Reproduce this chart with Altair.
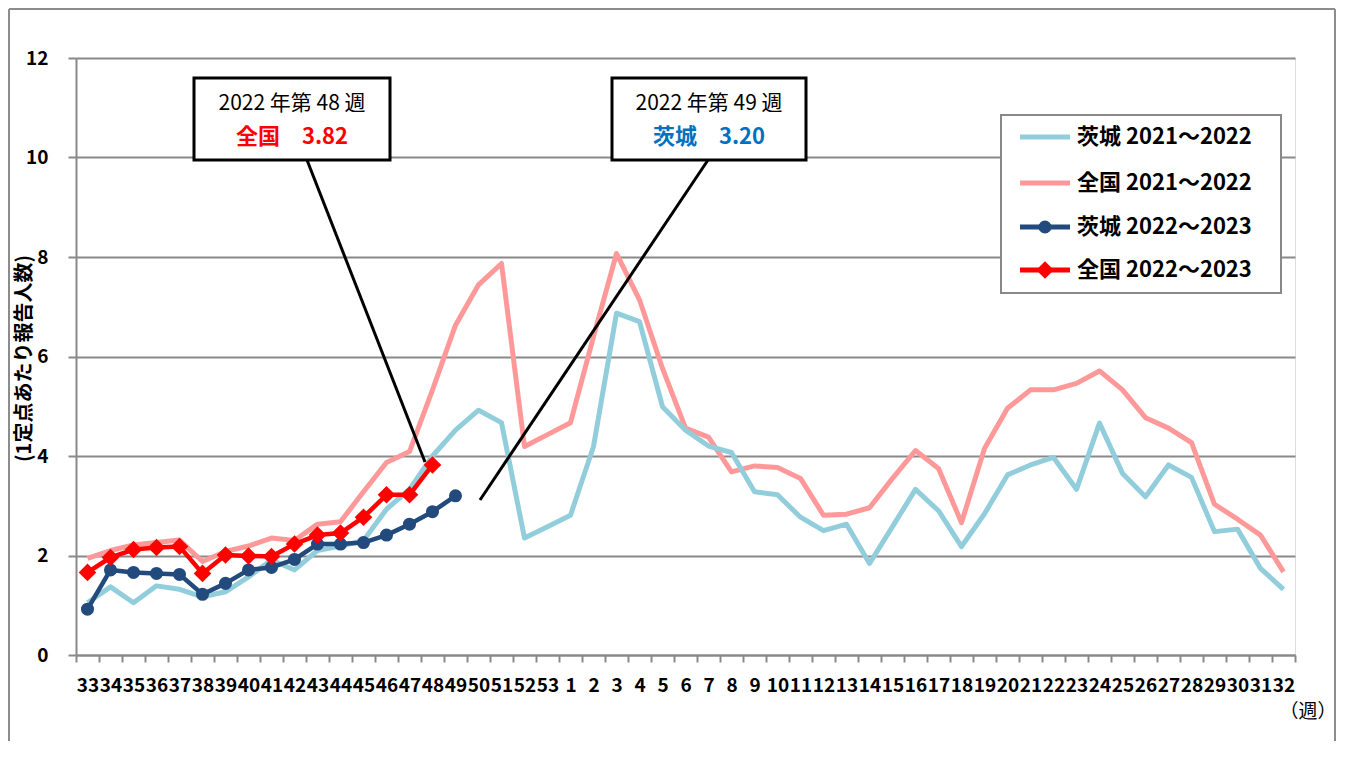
import altair as alt
import pandas as pd

weeks = ["33", "34", "35", "36", "37", "38", "39", "40", "41", "42", "43", "44", "45", "46",
         "47", "48", "49", "50", "51", "52", "53", "1", "2", "3", "4", "5", "6", "7", "8", "9",
         "10", "11", "12", "13", "14", "15", "16", "17", "18", "19", "20", "21", "22", "23",
         "24", "25", "26", "27", "28", "29", "30", "31", "32"]

ibaraki_2122 = [1.05, 1.37, 1.05, 1.39, 1.32, 1.17, 1.27, 1.57, 1.91, 1.71, 2.10, 2.19, 2.30,
                2.93, 3.33, 4.00, 4.52, 4.92, 4.67, 2.35, 2.58, 2.81, 4.19, 6.87, 6.70, 4.99,
                4.52, 4.20, 4.07, 3.28, 3.22, 2.77, 2.50, 2.63, 1.84, 2.58, 3.33, 2.90, 2.18,
                2.84, 3.62, 3.82, 3.97, 3.33, 4.66, 3.65, 3.18, 3.82, 3.57, 2.48, 2.53, 1.74, 1.32]

national_2122 = [1.94, 2.10, 2.21, 2.26, 2.31, 1.88, 2.08, 2.19, 2.35, 2.30, 2.63, 2.68, 3.28,
                 3.87, 4.09, 5.33, 6.63, 7.44, 7.87, 4.19, 4.43, 4.67, 6.40, 8.07, 7.14, 5.76,
                 4.56, 4.38, 3.68, 3.80, 3.77, 3.55, 2.81, 2.83, 2.96, 3.55, 4.11, 3.75, 2.66,
                 4.15, 4.96, 5.33, 5.33, 5.46, 5.71, 5.33, 4.77, 4.56, 4.27, 3.03, 2.73, 2.41, 1.67]

ibaraki_2223 = [0.92, 1.71, 1.66, 1.64, 1.62, 1.22, 1.44, 1.71, 1.76, 1.92, 2.23, 2.23, 2.26,
                2.41, 2.63, 2.88, 3.20]

national_2223 = [1.66, 1.96, 2.12, 2.16, 2.18, 1.64, 2.01, 1.99, 1.98, 2.23, 2.41, 2.45, 2.77,
                 3.22, 3.22, 3.82]

series_names = ["茨城2021～2022", "全国2021～2022", "茨城2022～2023", "全国2022～2023"]
legend_labels = ["茨城 2021～2022", "全国 2021～2022", "茨城 2022～2023", "全国 2022～2023"]
series_colors = ["#92CDDC", "#FF9999", "#234A7C", "#FF0000"]

FONT = "Noto Sans CJK JP"
GRID = "#898989"


def frame(name, vals):
    return pd.DataFrame({"series": name, "week": weeks[:len(vals)], "value": vals})


df_lb = frame(series_names[0], ibaraki_2122)
df_pk = frame(series_names[1], national_2122)
df_nv = frame(series_names[2], ibaraki_2223)
df_rd = frame(series_names[3], national_2223)

W, H = 1219, 597

x_enc = alt.X(
    "week:N", sort=weeks, title=None,
    scale=alt.Scale(type="band", domain=weeks, paddingInner=0, paddingOuter=0),
    axis=alt.Axis(
        labelFontSize=19, labelFontWeight="bold", labelColor="#000000", labelFont=FONT,
        labelOverlap=False, labelBound=False, labelFlush=False, labelAngle=0,
        labelPadding=14, tickSize=7, tickWidth=2, tickColor=GRID, tickBand="extent",
        domainColor=GRID, domainWidth=2, grid=False,
    ),
)
y_enc = alt.Y(
    "value:Q",
    scale=alt.Scale(domain=[0, 12], nice=False, zero=True),
    axis=alt.Axis(
        values=[0, 2, 4, 6, 8, 10, 12], format="d",
        labelFontSize=19, labelFontWeight="bold", labelColor="#000000", labelFont=FONT,
        labelPadding=20, tickSize=8, tickWidth=2, tickColor=GRID,
        domainColor=GRID, domainWidth=2,
        grid=True, gridColor=GRID, gridWidth=2,
        title="(1定点あたり報告人数)", titleFont=FONT, titleFontSize=20,
        titleFontWeight="bold", titleColor="#000000", titleAngle=270,
        titleX=-52, titleY=300, titleAlign="center", titleBaseline="middle",
    ),
)


def series_line(df, color, width):
    return alt.Chart(df).mark_line(color=color, strokeWidth=width, strokeJoin="round").encode(
        x=x_enc, y=y_enc)


pink = series_line(df_pk, series_colors[1], 5)
lblue = series_line(df_lb, series_colors[0], 5)
navy_line = series_line(df_nv, series_colors[2], 4.5)
navy_pts = alt.Chart(df_nv).mark_point(shape="circle", filled=True, size=170, opacity=1,
                                       color=series_colors[2]).encode(x=x_enc, y=y_enc)
red_line = series_line(df_rd, series_colors[3], 4.5)
red_pts = alt.Chart(df_rd).mark_point(shape="diamond", filled=True, size=310, opacity=1,
                                      color=series_colors[3]).encode(x=x_enc, y=y_enc)

one = alt.Data(values=[{"a": 1}])


def rect(x1, y1, x2, y2, fill, stroke, sw):
    return alt.Chart(one).mark_rect(fill=fill, stroke=stroke, strokeWidth=sw).encode(
        x=alt.value(x1), x2=alt.value(x2), y=alt.value(y1), y2=alt.value(y2))


def rule(x1, y1, x2, y2, color, sw):
    return alt.Chart(one).mark_rule(color=color, strokeWidth=sw).encode(
        x=alt.value(x1), x2=alt.value(x2), y=alt.value(y1), y2=alt.value(y2))


def text(x, y, s, size, color="#000000", weight="normal", align="center"):
    return alt.Chart(one).mark_text(font=FONT, fontSize=size, fontWeight=weight, color=color,
                                    align=align, baseline="middle").encode(
        x=alt.value(x), y=alt.value(y), text=alt.value(s))


deco = []
# outer frame (left, top, right)
deco.append(rule(-67, -49, -67, 685, "#8C8C8C", 2))
deco.append(rule(-67, -49, 1259, -49, "#8C8C8C", 2))
deco.append(rule(1259, -49, 1259, 685, "#8C8C8C", 2))

# legend
deco.append(rect(925, 57, 1205, 235, "#FFFFFF", GRID, 2))
leg_y = [79, 125, 169, 212]
for i, name in enumerate(legend_labels):
    deco.append(rule(944, leg_y[i], 994, leg_y[i], series_colors[i], 5))
    deco.append(text(1001, leg_y[i], name, 22, weight="bold", align="left"))
deco.append(alt.Chart(one).mark_point(shape="circle", filled=True, size=170, opacity=1,
                                      color=series_colors[2]).encode(
    x=alt.value(969), y=alt.value(leg_y[2])))
deco.append(alt.Chart(one).mark_point(shape="diamond", filled=True, size=310, opacity=1,
                                      color=series_colors[3]).encode(
    x=alt.value(969), y=alt.value(leg_y[3])))

# callouts
deco.append(rule(231, 102, 349, 404, "#000000", 3))
deco.append(rule(632, 102, 404, 442, "#000000", 3))
deco.append(rect(118, 20, 314, 102, "#FFFFFF", "#000000", 3))
deco.append(rect(536, 20, 730, 102, "#FFFFFF", "#000000", 3))
deco.append(text(216, 46, "2022 年第 48 週", 21))
deco.append(text(216, 79, "全国　3.82", 22, color="#FF0000", weight="bold"))
deco.append(text(633, 46, "2022 年第 49 週", 21))
deco.append(text(633, 79, "茨城　3.20", 22, color="#0070C0", weight="bold"))

# week unit label
deco.append(text(1232, 654, "（週）", 19))

chart = alt.layer(pink, lblue, navy_line, navy_pts, red_line, red_pts, *deco).properties(
    width=W, height=H,
    autosize=alt.AutoSizeParams(type="none"),
    padding={"left": 68, "top": 50, "right": 42, "bottom": 86},
).configure_view(stroke=None).configure(background="#FFFFFF")

chart.save("out.html", embed_options={"renderer": "svg", "actions": False})
